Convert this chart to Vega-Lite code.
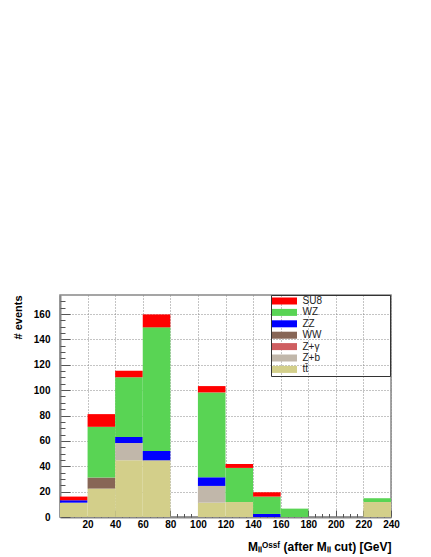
{
  "$schema": "https://vega.github.io/schema/vega-lite/v6.json",
  "autosize": {"type": "none"},
  "padding": {"left": 60, "top": 295, "right": 40, "bottom": 40},
  "width": 331,
  "height": 222,
  "background": "white",
  "config": {
    "font": "Liberation Sans",
    "view": {"stroke": "#888", "strokeWidth": 1.5},
    "axis": {
      "domainColor": "#888", "domainWidth": 2,
      "tickColor": "#555", "tickWidth": 1,
      "gridColor": "#888", "gridDash": [1, 2], "gridWidth": 1,
      "labelFont": "Liberation Sans", "labelFontWeight": "bold", "labelFontSize": 10, "labelColor": "#000",
      "titleFont": "Liberation Sans", "titleFontWeight": "bold", "titleFontSize": 11, "titleColor": "#000"
    }
  },
  "data": {
    "values": [
      {"lo": 0, "hi": 20, "proc": "tt̄", "k": 1, "n": 11.3},
      {"lo": 0, "hi": 20, "proc": "ZZ", "k": 5, "n": 1.9},
      {"lo": 0, "hi": 20, "proc": "SU8", "k": 7, "n": 2.9},
      {"lo": 20, "hi": 40, "proc": "tt̄", "k": 1, "n": 22.4},
      {"lo": 20, "hi": 40, "proc": "WW", "k": 4, "n": 8.7},
      {"lo": 20, "hi": 40, "proc": "WZ", "k": 6, "n": 40},
      {"lo": 20, "hi": 40, "proc": "SU8", "k": 7, "n": 10},
      {"lo": 40, "hi": 60, "proc": "tt̄", "k": 1, "n": 44.7},
      {"lo": 40, "hi": 60, "proc": "Z+b", "k": 2, "n": 13.7},
      {"lo": 40, "hi": 60, "proc": "ZZ", "k": 5, "n": 4.7},
      {"lo": 40, "hi": 60, "proc": "WZ", "k": 6, "n": 47},
      {"lo": 40, "hi": 60, "proc": "SU8", "k": 7, "n": 5.2},
      {"lo": 60, "hi": 80, "proc": "tt̄", "k": 1, "n": 44.7},
      {"lo": 60, "hi": 80, "proc": "ZZ", "k": 5, "n": 7.4},
      {"lo": 60, "hi": 80, "proc": "WZ", "k": 6, "n": 97.4},
      {"lo": 60, "hi": 80, "proc": "SU8", "k": 7, "n": 10.2},
      {"lo": 100, "hi": 120, "proc": "tt̄", "k": 1, "n": 11.3},
      {"lo": 100, "hi": 120, "proc": "Z+b", "k": 2, "n": 13.2},
      {"lo": 100, "hi": 120, "proc": "ZZ", "k": 5, "n": 6.8},
      {"lo": 100, "hi": 120, "proc": "WZ", "k": 6, "n": 66.9},
      {"lo": 100, "hi": 120, "proc": "SU8", "k": 7, "n": 5},
      {"lo": 120, "hi": 140, "proc": "tt̄", "k": 1, "n": 11.8},
      {"lo": 120, "hi": 140, "proc": "WZ", "k": 6, "n": 26.9},
      {"lo": 120, "hi": 140, "proc": "SU8", "k": 7, "n": 3.1},
      {"lo": 140, "hi": 160, "proc": "ZZ", "k": 5, "n": 2.4},
      {"lo": 140, "hi": 160, "proc": "WZ", "k": 6, "n": 13.7},
      {"lo": 140, "hi": 160, "proc": "SU8", "k": 7, "n": 3.4},
      {"lo": 160, "hi": 180, "proc": "WZ", "k": 6, "n": 6.6},
      {"lo": 220, "hi": 240, "proc": "tt̄", "k": 1, "n": 11.8},
      {"lo": 220, "hi": 240, "proc": "WZ", "k": 6, "n": 3}
    ]
  },
  "transform": [
    {"stack": "n", "groupby": ["lo"], "sort": [{"field": "k", "order": "ascending"}], "as": ["y0", "y1"]}
  ],
  "layer": [
    {
      "mark": {"type": "bar", "strokeWidth": 0},
      "encoding": {
        "x": {
          "field": "lo", "type": "quantitative",
          "scale": {"domain": [0, 240], "nice": false, "zero": false},
          "axis": {
            "orient": "bottom",
            "values": [20, 40, 60, 80, 100, 120, 140, 160, 180, 200, 220, 240],
            "tickSize": -7, "labelPadding": 9, "grid": true, "labelFlush": false, "labelOverlap": false,
            "title": "Mₗₗᴼˢˢᶠ (after Mₗₗ cut) [GeV]",
            "titleAnchor": "end", "titlePadding": 12, "titleFontSize": 12
          }
        },
        "x2": {"field": "hi"},
        "y": {
          "field": "y0", "type": "quantitative",
          "scale": {"domain": [0, 175], "nice": false},
          "axis": {
            "orient": "left",
            "values": [0, 20, 40, 60, 80, 100, 120, 140, 160],
            "tickSize": -10, "labelPadding": 20, "grid": true, "labelFlush": false,
            "title": "# events", "titleAnchor": "end", "titlePadding": 10
          }
        },
        "y2": {"field": "y1"},
        "color": {
          "field": "proc", "type": "nominal",
          "scale": {
            "domain": ["SU8", "WZ", "ZZ", "WW", "Z+γ", "Z+b", "tt̄"],
            "range": ["#ff0000", "#59d454", "#0000ff", "#876656", "#cf5e61", "#c1b7aa", "#d3cf8a"]
          },
          "legend": {
            "title": "____________",
            "titleOrient": "right", "titleFontSize": 10, "titleFontWeight": "normal",
            "titleColor": "transparent", "titlePadding": 0,
            "orient": "none", "legendX": 211, "legendY": 0,
            "strokeColor": "#333", "padding": 1,
            "symbolType": "M-2.5,-0.7H2.5V0.7H-2.5Z", "symbolSize": 100,
            "symbolStrokeWidth": 0, "symbolOffset": 7.5,
            "labelFont": "Liberation Sans", "labelFontSize": 10, "labelColor": "#222",
            "labelOffset": 13, "rowPadding": 1.4
          }
        }
      }
    },
    {
      "mark": {"type": "point", "opacity": 0},
      "encoding": {
        "x": {
          "field": "lo", "type": "quantitative",
          "axis": {
            "orient": "bottom",
            "values": [5, 10, 15, 25, 30, 35, 45, 50, 55, 65, 70, 75, 85, 90, 95, 105, 110, 115, 125, 130, 135, 145, 150, 155, 165, 170, 175, 185, 190, 195, 205, 210, 215, 225, 230, 235],
            "tickSize": -3.5, "labels": false, "domain": false, "grid": false, "title": null
          }
        },
        "y": {
          "field": "y1", "type": "quantitative",
          "axis": {
            "orient": "left",
            "values": [5, 10, 15, 25, 30, 35, 45, 50, 55, 65, 70, 75, 85, 90, 95, 105, 110, 115, 125, 130, 135, 145, 150, 155, 165, 170],
            "tickSize": -5, "labels": false, "domain": false, "grid": false, "title": null
          }
        }
      }
    }
  ],
  "resolve": {"axis": {"x": "independent", "y": "independent"}}
}
